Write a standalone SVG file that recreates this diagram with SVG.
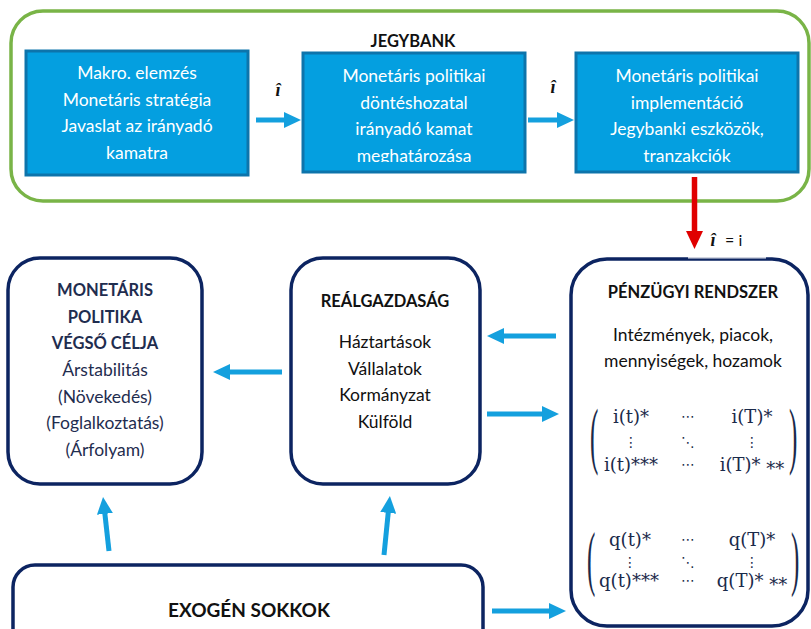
<svg xmlns="http://www.w3.org/2000/svg" width="811" height="629" viewBox="0 0 811 629">
  <style>
    .frame { fill: none; stroke: #79b447; stroke-width: 3.5; }
    .step { fill: #049fe0; stroke: #0d74ab; stroke-width: 3; }
    .step-txt { font-family: Lato, "Open Sans", sans-serif; font-size: 17.5px; fill: #ffffff; text-anchor: middle; }
    .node { fill: #ffffff; stroke: #0c2461; stroke-width: 3.5; }
    .title { font-family: Lato, "Open Sans", sans-serif; font-size: 16.5px; font-weight: bold; text-anchor: middle; fill: #111111; }
    .body { font-family: Lato, "Open Sans", sans-serif; font-size: 17.5px; text-anchor: middle; fill: #111111; }
    .navy { fill: #1f2d4f; }
    .link { stroke: #14a0de; stroke-width: 5; fill: none; marker-end: url(#ah); }
    .mat { font-family: "DejaVu Serif", "Liberation Serif", serif; font-size: 18px; fill: #1a2a4a; text-anchor: middle; }
    .dots { font-family: "DejaVu Sans", sans-serif; font-size: 14px; fill: #1a2a4a; text-anchor: middle; }
    .paren { font-family: "Liberation Serif", serif; font-size: 25px; fill: #1a2a4a; }
    .ihat { font-family: "Liberation Serif", serif; font-style: italic; font-weight: bold; font-size: 18px; fill: #111111; text-anchor: middle; }
    .eq { font-family: Lato, "Open Sans", sans-serif; font-size: 16px; fill: #111111; }
  </style>
  <defs>
    <marker id="ah" markerUnits="userSpaceOnUse" markerWidth="18" markerHeight="16" refX="1" refY="8" orient="auto">
      <path d="M0,0 L17,8 L0,16 Z" fill="#14a0de"/>
    </marker>
    <marker id="ahRed" markerUnits="userSpaceOnUse" markerWidth="19" markerHeight="17" refX="1" refY="8.5" orient="auto">
      <path d="M0,0 L18,8.5 L0,17 Z" fill="#e00000"/>
    </marker>
    <clipPath id="clip2">
      <rect x="303" y="53" width="222" height="109"/>
    </clipPath>
  </defs>

  <!-- central bank frame -->
  <g id="jegybank">
    <rect class="frame" x="11" y="11" width="798" height="190" rx="32"/>
    <text class="title" x="413" y="47">JEGYBANK</text>
  </g>

  <g id="step1">
    <rect class="step" x="26" y="51" width="222" height="124"/>
    <text class="step-txt" x="137" y="79">Makro. elemzés</text>
    <text class="step-txt" x="137" y="105.5">Monetáris stratégia</text>
    <text class="step-txt" x="137" y="132">Javaslat az irányadó</text>
    <text class="step-txt" x="137" y="158.5">kamatra</text>
  </g>

  <g id="step2">
    <rect class="step" x="303" y="53" width="222" height="119"/>
    <g clip-path="url(#clip2)">
      <text class="step-txt" x="414" y="82">Monetáris politikai</text>
      <text class="step-txt" x="414" y="108.5">döntéshozatal</text>
      <text class="step-txt" x="414" y="135">irányadó kamat</text>
      <text class="step-txt" x="414" y="161.5">meghatározása</text>
    </g>
  </g>

  <g id="step3">
    <rect class="step" x="576" y="53" width="222" height="119"/>
    <text class="step-txt" x="687" y="82">Monetáris politikai</text>
    <text class="step-txt" x="687" y="108.5">implementáció</text>
    <text class="step-txt" x="687" y="135">Jegybanki eszközök,</text>
    <text class="step-txt" x="687" y="161.5">tranzakciók</text>
  </g>

  <g id="celok">
    <rect class="node" x="8" y="258" width="194" height="226" rx="32"/>
    <text class="title navy" x="105" y="296">MONETÁRIS</text>
    <text class="title navy" x="105" y="322.5">POLITIKA</text>
    <text class="title navy" x="105" y="349">VÉGSŐ CÉLJA</text>
    <text class="body navy" x="105" y="376">Árstabilitás</text>
    <text class="body navy" x="105" y="402.5">(Növekedés)</text>
    <text class="body navy" x="105" y="429">(Foglalkoztatás)</text>
    <text class="body navy" x="105" y="455.5">(Árfolyam)</text>
  </g>

  <g id="realgazdasag">
    <rect class="node" x="291" y="258" width="189" height="226" rx="32"/>
    <text class="title" x="385" y="307">REÁLGAZDASÁG</text>
    <text class="body" x="385" y="348">Háztartások</text>
    <text class="body" x="385" y="374.5">Vállalatok</text>
    <text class="body" x="385" y="401">Kormányzat</text>
    <text class="body" x="385" y="427.5">Külföld</text>
  </g>

  <g id="penzugyi">
    <rect class="node" x="571" y="259" width="237" height="367" rx="36"/>
    <!-- lighter stretch of the top edge under the rate label -->
    <rect x="688" y="256.6" width="78" height="2" fill="#ffffff" opacity="0.75"/>
    <text class="title" x="693" y="298">PÉNZÜGYI RENDSZER</text>
    <text class="body" x="693" y="341">Intézmények, piacok,</text>
    <text class="body" x="693" y="367">mennyiségek, hozamok</text>

    <!-- interest-rate matrix -->
    <text class="paren" transform="translate(590,460) scale(1,3)">(</text>
    <text class="paren" transform="translate(789,460) scale(1,3)">)</text>
    <text class="mat" x="631" y="423">i(t)*</text>
    <text class="dots" x="688" y="421">⋯</text>
    <text class="mat" x="752" y="423">i(T)*</text>
    <text class="dots" x="631" y="447">⋮</text>
    <text class="dots" x="688" y="447">⋱</text>
    <text class="dots" x="752" y="447">⋮</text>
    <text class="mat" x="631" y="471">i(t)***</text>
    <text class="dots" x="688" y="469">⋯</text>
    <text class="mat" x="752" y="471">i(T)*<tspan dy="4"> **</tspan></text>

    <!-- quantity matrix -->
    <text class="paren" transform="translate(587,582) scale(1,2.85)">(</text>
    <text class="paren" transform="translate(791,582) scale(1,2.85)">)</text>
    <text class="mat" x="630" y="546">q(t)*</text>
    <text class="dots" x="688" y="544">⋯</text>
    <text class="mat" x="752" y="546">q(T)*</text>
    <text class="dots" x="630" y="567">⋮</text>
    <text class="dots" x="688" y="567">⋱</text>
    <text class="dots" x="752" y="567">⋮</text>
    <text class="mat" x="629" y="587">q(t)***</text>
    <text class="dots" x="688" y="585">⋯</text>
    <text class="mat" x="752" y="587">q(T)*<tspan dy="4"> **</tspan></text>
  </g>

  <g id="sokkok">
    <rect class="node" x="13" y="565" width="470" height="92" rx="22"/>
    <text class="title" x="249" y="617" style="font-size:19px">EXOGÉN SOKKOK</text>
  </g>

  <g id="connectors">
    <line class="link" x1="256" y1="120" x2="285" y2="120"/>
    <line class="link" x1="528" y1="120" x2="558" y2="120"/>
    <line class="link" x1="282" y1="372" x2="229" y2="372"/>
    <line class="link" x1="556" y1="336" x2="503" y2="336"/>
    <line class="link" x1="487" y1="414" x2="543" y2="414"/>
    <line class="link" x1="492" y1="611" x2="550" y2="611"/>
    <line class="link" x1="109" y1="551" x2="104.8" y2="512.9"/>
    <line class="link" x1="384" y1="555" x2="388.3" y2="511.9"/>
    <line x1="694.5" y1="177" x2="694.5" y2="232" stroke="#e00000" stroke-width="5.5" marker-end="url(#ahRed)"/>

    <!-- rate labels (i-hat) -->
    <text class="ihat" x="278" y="96">î</text>
    <text class="ihat" x="553" y="93">î</text>
    <text class="ihat" x="713" y="246">î</text>
    <text class="eq" x="725" y="246">= i</text>
  </g>
</svg>
